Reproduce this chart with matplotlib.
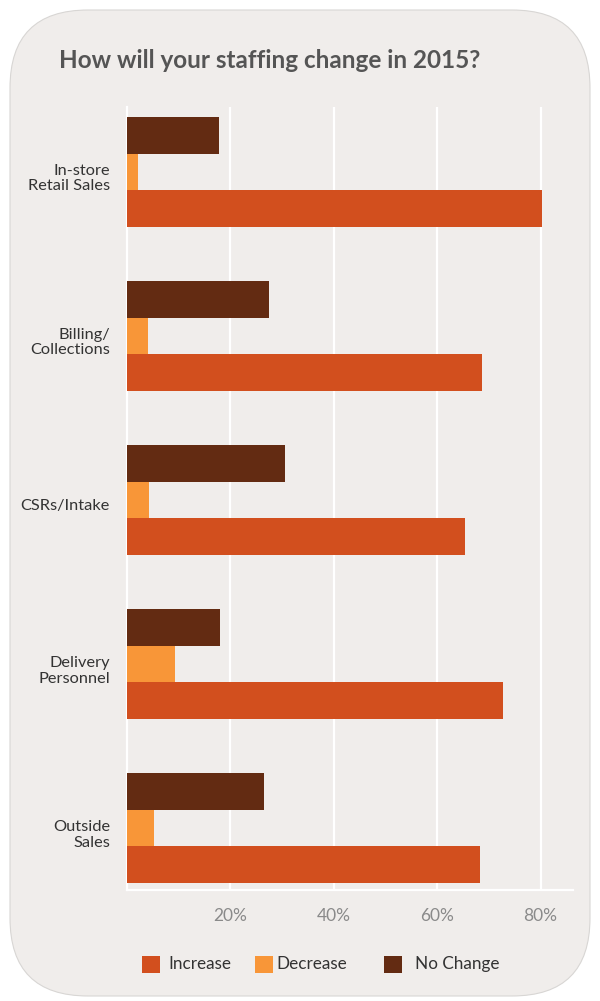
import matplotlib
matplotlib.use("Agg")
import matplotlib.pyplot as plt
from matplotlib.patches import FancyBboxPatch, Rectangle
from matplotlib.ticker import FuncFormatter
import numpy as np

plt.rcParams['font.family'] = ['Lato', 'DejaVu Sans']

categories = ["In-store\nRetail Sales", "Billing/\nCollections", "CSRs/Intake",
              "Delivery\nPersonnel", "Outside\nSales"]
series_names = ["Increase", "Decrease", "No Change"]
increase = [80.3, 68.6, 65.3, 72.8, 68.3]
decrease = [2.1, 4.2, 4.4, 9.4, 5.3]
no_change = [17.9, 27.5, 30.5, 18.1, 26.5]
xticks = [20, 40, 60, 80]
title = "How will your staffing change in 2015?"

colors = {"Increase": "#d24f1e", "Decrease": "#f89638", "No Change": "#632b12"}
BG = "#f0edeb"

W, H = 600, 1001
fig = plt.figure(figsize=(W / 100, H / 100), dpi=100)
fig.patch.set_facecolor("white")

def fx(px):
    return px / W

def fy(py):
    return 1 - py / H

# rounded background panel
bg = FancyBboxPatch((fx(10), fy(996)), fx(580), 986 / H,
                    boxstyle="round,pad=0,rounding_size=0.13",
                    transform=fig.transFigure, facecolor=BG,
                    edgecolor="#d8d6d4", linewidth=0.8, mutation_aspect=W / H,
                    zorder=-10)
fig.patches.append(bg)

fig.text(fx(59), fy(60), title, fontsize=17.5, fontweight="bold",
         color="#555555", ha="left", va="center")

ax_l, ax_r, ax_t, ax_b = 126.7, 572.7, 107, 890
ax = fig.add_axes([fx(ax_l), fy(ax_b), fx(ax_r - ax_l), (ax_b - ax_t) / H])
ax.set_facecolor("none")
ax.set_zorder(5)

y = np.arange(len(categories))
h = 0.223
ax.barh(y + h, increase, height=h, color=colors["Increase"], zorder=3)
ax.barh(y, decrease, height=h, color=colors["Decrease"], zorder=3)
ax.barh(y - h, no_change, height=h, color=colors["No Change"], zorder=3)

ax.set_xlim(0, 86.2)
ax.set_ylim(len(categories) - 1 + 0.378, -0.396)

ax.set_xticks(xticks)
ax.xaxis.set_major_formatter(FuncFormatter(lambda v, p: f"{v:.0f}%"))
ax.set_yticks(y + 0.03)
ax.set_yticklabels(categories)
ax.tick_params(axis="x", length=0, pad=13, labelsize=12.5, labelcolor="#8a8a8a")
ax.tick_params(axis="y", length=0, pad=12, labelsize=11.8, labelcolor="#333333")
for lbl in ax.get_yticklabels():
    lbl.set_linespacing(1.1)

ax.grid(axis="x", color="white", linewidth=1.6, zorder=0)
ax.grid(axis="y", visible=False)
for s in ["top", "right"]:
    ax.spines[s].set_visible(False)
for s in ["left", "bottom"]:
    ax.spines[s].set_color("white")
    ax.spines[s].set_linewidth(1.6)

# legend
leg_sq = [142.3, 255, 384]
leg_tx = [168, 276, 415]
for name, sx, tx in zip(series_names, leg_sq, leg_tx):
    fig.patches.append(Rectangle((fx(sx), fy(973.3)), fx(17.7), 17.6 / H,
                                 transform=fig.transFigure,
                                 facecolor=colors[name], edgecolor="none"))
    fig.text(fx(tx), fy(964), name, fontsize=12.3, color="#333333",
             ha="left", va="center")

fig.savefig("out.png", dpi=100, facecolor="white")
